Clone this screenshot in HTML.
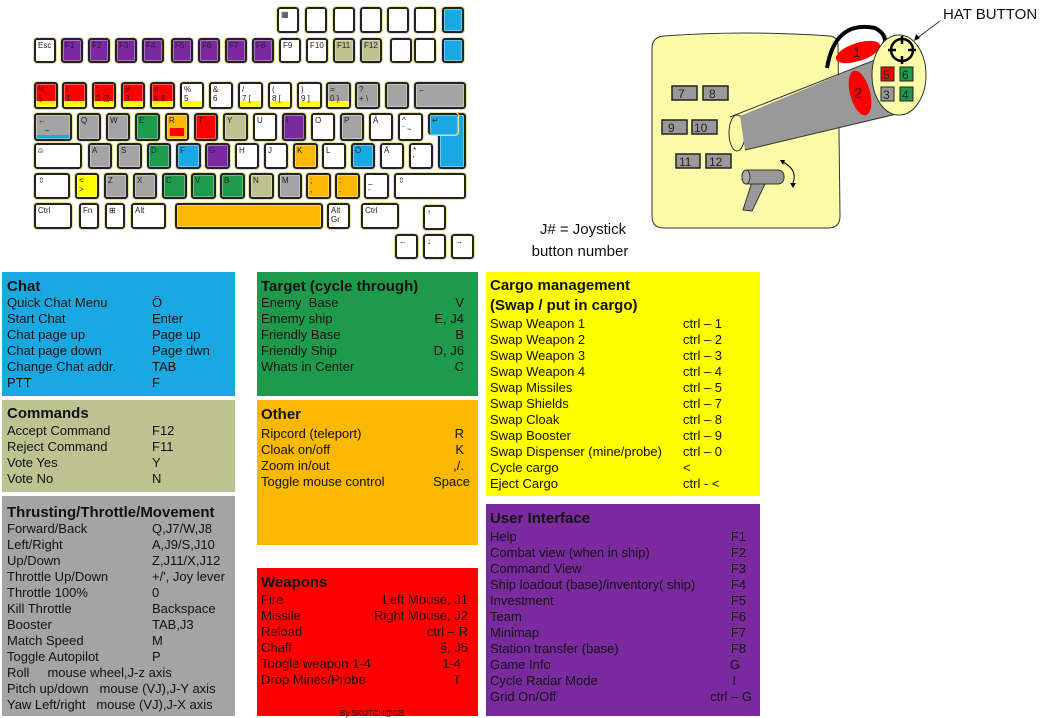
<!DOCTYPE html>
<html><head><meta charset="utf-8"><style>
*{margin:0;padding:0}
body{width:1045px;height:718px;position:relative;background:#fff;font-family:"Liberation Sans",Arial,sans-serif;overflow:hidden}
.k{position:absolute;box-sizing:border-box;border:2px solid #222;border-radius:3px;font-size:8px;line-height:9px;padding:1px 2px;color:#222;outline:1px solid #e8e0a0;box-shadow:inset 0 0 0 1px rgba(255,255,255,.35)}
.w{background:#fff}.p{background:#7a2a9e}.r{background:#f00}.g{background:#a4a4a4}.gr{background:#1e9a4c}.o{background:#fbb800}.ol{background:#bcc290}.c{background:#1aa8e2}.y{background:#ff0}
.yb{background-image:linear-gradient(to top,#ff0 0,#ff0 6px,transparent 6px)}
.pn{position:absolute;box-sizing:border-box;font-size:13px;color:#111}
.pn h{display:block;font-weight:bold;font-size:15px;height:17px;line-height:17px}
.pn div{height:16px;line-height:16px;position:relative;white-space:nowrap}
.pn i{font-style:normal;position:absolute;top:0}
</style></head><body>

<!-- keyboard -->
<div class="k w" style="left:277px;top:7px;width:22px;height:26px">▦</div>
<div class="k w" style="left:305px;top:7px;width:22px;height:26px"></div>
<div class="k w" style="left:333px;top:7px;width:22px;height:26px"></div>
<div class="k w" style="left:360px;top:7px;width:22px;height:26px"></div>
<div class="k w" style="left:387px;top:7px;width:22px;height:26px"></div>
<div class="k w" style="left:414px;top:7px;width:22px;height:26px"></div>
<div class="k c" style="left:442px;top:7px;width:22px;height:26px"></div>

<div class="k w" style="left:34px;top:38px;width:22px;height:25px">Esc</div>
<div class="k p" style="left:61px;top:38px;width:22px;height:25px">F1</div>
<div class="k p" style="left:88px;top:38px;width:22px;height:25px">F2</div>
<div class="k p" style="left:115px;top:38px;width:22px;height:25px">F3</div>
<div class="k p" style="left:142px;top:38px;width:22px;height:25px">F4</div>
<div class="k p" style="left:171px;top:38px;width:22px;height:25px">F5</div>
<div class="k p" style="left:198px;top:38px;width:22px;height:25px">F6</div>
<div class="k p" style="left:225px;top:38px;width:22px;height:25px">F7</div>
<div class="k p" style="left:252px;top:38px;width:22px;height:25px">F8</div>
<div class="k w" style="left:279px;top:38px;width:22px;height:25px">F9</div>
<div class="k w" style="left:306px;top:38px;width:22px;height:25px">F10</div>
<div class="k ol" style="left:333px;top:38px;width:22px;height:25px">F11</div>
<div class="k ol" style="left:360px;top:38px;width:22px;height:25px">F12</div>
<div class="k w" style="left:390px;top:38px;width:22px;height:25px"></div>
<div class="k w" style="left:414px;top:38px;width:22px;height:25px"></div>
<div class="k c" style="left:442px;top:38px;width:22px;height:25px"></div>

<div class="k r yb" style="left:34px;top:82px;width:24px;height:27px">½<br>§</div>
<div class="k r yb" style="left:62px;top:82px;width:25px;height:27px">!<br>1</div>
<div class="k r yb" style="left:92px;top:82px;width:24px;height:27px">"<br>2 @</div>
<div class="k r yb" style="left:121px;top:82px;width:24px;height:27px">#<br>3</div>
<div class="k r yb" style="left:150px;top:82px;width:25px;height:27px">¤<br>4 $</div>
<div class="k w yb" style="left:180px;top:82px;width:24px;height:27px">%<br>5</div>
<div class="k w" style="left:209px;top:82px;width:24px;height:27px">&amp;<br>6</div>
<div class="k w yb" style="left:238px;top:82px;width:25px;height:27px">/<br>7 [</div>
<div class="k w yb" style="left:268px;top:82px;width:24px;height:27px">(<br>8 [</div>
<div class="k w yb" style="left:297px;top:82px;width:25px;height:27px">)<br>9 ]</div>
<div class="k g yb" style="left:326px;top:82px;width:25px;height:27px">=<br>0 }</div>
<div class="k g" style="left:355px;top:82px;width:25px;height:27px">?<br>+ \</div>
<div class="k g" style="left:385px;top:82px;width:24px;height:27px"></div>
<div class="k g" style="left:414px;top:82px;width:52px;height:27px">←</div>

<div class="k g" style="left:34px;top:113px;width:38px;height:28px;background-image:linear-gradient(to top,#1aa8e2 4px,transparent 4px)">←<br>&nbsp;&nbsp;→</div>
<div class="k g" style="left:77px;top:113px;width:24px;height:28px">Q</div>
<div class="k g" style="left:106px;top:113px;width:24px;height:28px">W</div>
<div class="k gr" style="left:135px;top:113px;width:25px;height:28px">E</div>
<div class="k o" style="left:165px;top:113px;width:24px;height:28px;background-image:linear-gradient(#f00,#f00);background-size:14px 8px;background-position:3px 13px;background-repeat:no-repeat">R</div>
<div class="k r" style="left:194px;top:113px;width:24px;height:28px">T</div>
<div class="k ol" style="left:223px;top:113px;width:25px;height:28px">Y</div>
<div class="k w" style="left:253px;top:113px;width:24px;height:28px">U</div>
<div class="k p" style="left:282px;top:113px;width:24px;height:28px">I</div>
<div class="k w" style="left:311px;top:113px;width:24px;height:28px">O</div>
<div class="k g" style="left:340px;top:113px;width:24px;height:28px">P</div>
<div class="k w" style="left:369px;top:113px;width:24px;height:28px">Å</div>
<div class="k w" style="left:398px;top:113px;width:25px;height:28px">^<br>¨ ~</div>
<div class="k c" style="left:438px;top:113px;width:28px;height:56px"></div>
<div class="k c" style="left:428px;top:113px;width:30px;height:22px;border-right:none;border-bottom:none">↵</div>

<div class="k w" style="left:34px;top:143px;width:48px;height:26px">⍝</div>
<div class="k g" style="left:88px;top:143px;width:24px;height:26px">A</div>
<div class="k g" style="left:117px;top:143px;width:25px;height:26px">S</div>
<div class="k gr" style="left:147px;top:143px;width:24px;height:26px">D</div>
<div class="k c" style="left:176px;top:143px;width:25px;height:26px">F</div>
<div class="k p" style="left:205px;top:143px;width:25px;height:26px">G</div>
<div class="k w" style="left:235px;top:143px;width:24px;height:26px">H</div>
<div class="k w" style="left:264px;top:143px;width:24px;height:26px">J</div>
<div class="k o" style="left:293px;top:143px;width:25px;height:26px">K</div>
<div class="k w" style="left:322px;top:143px;width:24px;height:26px">L</div>
<div class="k c" style="left:351px;top:143px;width:24px;height:26px">Ö</div>
<div class="k w" style="left:380px;top:143px;width:24px;height:26px">Ä</div>
<div class="k w" style="left:409px;top:143px;width:24px;height:26px">*<br>'</div>

<div class="k w" style="left:34px;top:173px;width:36px;height:26px">⇧</div>
<div class="k y" style="left:75px;top:173px;width:24px;height:26px">&lt;<br>&gt;</div>
<div class="k g" style="left:104px;top:173px;width:24px;height:26px">Z</div>
<div class="k g" style="left:133px;top:173px;width:24px;height:26px">X</div>
<div class="k gr" style="left:162px;top:173px;width:25px;height:26px">C</div>
<div class="k gr" style="left:191px;top:173px;width:25px;height:26px">V</div>
<div class="k gr" style="left:220px;top:173px;width:25px;height:26px">B</div>
<div class="k ol" style="left:249px;top:173px;width:25px;height:26px">N</div>
<div class="k g" style="left:278px;top:173px;width:24px;height:26px">M</div>
<div class="k o" style="left:306px;top:173px;width:25px;height:26px">;<br>,</div>
<div class="k o" style="left:335px;top:173px;width:25px;height:26px">:<br>.</div>
<div class="k w" style="left:364px;top:173px;width:25px;height:26px">_<br>-</div>
<div class="k w" style="left:394px;top:173px;width:72px;height:26px">⇧</div>

<div class="k w" style="left:34px;top:203px;width:38px;height:26px">Ctrl</div>
<div class="k w" style="left:79px;top:203px;width:20px;height:26px">Fn</div>
<div class="k w" style="left:105px;top:203px;width:20px;height:26px">⊞</div>
<div class="k w" style="left:131px;top:203px;width:35px;height:26px">Alt</div>
<div class="k o" style="left:175px;top:203px;width:148px;height:26px"></div>
<div class="k w" style="left:327px;top:203px;width:23px;height:26px">Alt<br>Gr</div>
<div class="k w" style="left:361px;top:203px;width:38px;height:26px">Ctrl</div>
<div class="k w" style="left:423px;top:205px;width:23px;height:25px;font-weight:bold">↑</div>
<div class="k w" style="left:395px;top:234px;width:23px;height:25px;font-weight:bold">←</div>
<div class="k w" style="left:423px;top:234px;width:23px;height:25px;font-weight:bold">↓</div>
<div class="k w" style="left:451px;top:234px;width:23px;height:25px;font-weight:bold">→</div>

<!-- joystick -->
<svg style="position:absolute;left:0;top:0" width="1045" height="260">
<path d="M664 36 Q745 30 830 36 Q838 37 838 46 L840 216 Q840 228 828 228 L664 228 Q652 228 652 216 L652 48 Q652 37 664 36 Z" fill="#fcfca8" stroke="#333" stroke-width="1"/>
<g font-family="Liberation Sans" font-size="12" fill="#222">
<rect x="672" y="86" width="25" height="14" fill="#999" stroke="#222" stroke-width="1.5"/><text x="678" y="98">7</text>
<rect x="703" y="86" width="25" height="14" fill="#999" stroke="#222" stroke-width="1.5"/><text x="709" y="98">8</text>
<rect x="662" y="120" width="25" height="14" fill="#999" stroke="#222" stroke-width="1.5"/><text x="668" y="132">9</text>
<rect x="692" y="120" width="25" height="14" fill="#999" stroke="#222" stroke-width="1.5"/><text x="694" y="132">10</text>
<rect x="676" y="154" width="24" height="14" fill="#999" stroke="#222" stroke-width="1.5"/><text x="679" y="166">11</text>
<rect x="706" y="154" width="25" height="14" fill="#999" stroke="#222" stroke-width="1.5"/><text x="709" y="166">12</text>
</g>
<path d="M827 68 Q835 20 875 28 Q888 35 884 45" fill="none" stroke="#000" stroke-width="4"/>
<ellipse cx="737" cy="133" rx="8" ry="18" fill="#fcfca8" stroke="#333"/>
<polygon points="740,116 880,58 905,112 745,150" fill="#999"/>
<line x1="730" y1="117" x2="880" y2="58" stroke="#333"/><line x1="745" y1="150" x2="905" y2="112" stroke="#333"/>
<ellipse cx="858" cy="52" rx="23" ry="9" transform="rotate(-18 858 52)" fill="#f00"/>
<ellipse cx="860" cy="93" rx="10" ry="23" transform="rotate(-15 860 93)" fill="#f00"/>
<text x="853" y="57" font-size="14" font-family="Liberation Sans" fill="#222">1</text>
<text x="854" y="98" font-size="15" font-family="Liberation Sans" fill="#222">2</text>
<ellipse cx="899" cy="75" rx="27" ry="40" fill="#fcfca8" stroke="#333"/>
<circle cx="902" cy="50" r="11" fill="none" stroke="#000" stroke-width="2.5"/>
<path d="M902 36v8M902 56v8M888 50h8M908 50h8" stroke="#000" stroke-width="2.5"/>
<g font-family="Liberation Sans" font-size="12" fill="#222">
<rect x="881" y="67" width="13" height="14" fill="#f00" stroke="#222"/><text x="883" y="79">5</text>
<rect x="900" y="67" width="13" height="14" fill="#1e9a4c" stroke="#222"/><text x="902" y="79">6</text>
<rect x="881" y="87" width="13" height="14" fill="#999" stroke="#222"/><text x="883" y="99">3</text>
<rect x="900" y="87" width="13" height="14" fill="#1e9a4c" stroke="#222"/><text x="902" y="99">4</text>
</g>
<polygon points="752,182 766,182 752,211 743,210" fill="#999" stroke="#333"/>
<rect x="742" y="170" width="42" height="14" rx="6" fill="#999" stroke="#333"/>
<ellipse cx="746" cy="177" rx="4" ry="7" fill="#aaa" stroke="#333"/>
<path d="M783 162 Q798 170 793 183" fill="none" stroke="#000"/>
<path d="M780 160l5 0-2 5zM790 183l6 0-3 5z" fill="#000"/>
<line x1="940" y1="21" x2="916" y2="39" stroke="#333"/>
<path d="M914 41l2-7 4 4z" fill="#000"/>
<text x="943" y="19" font-family="Liberation Sans" font-size="15" fill="#111">HAT BUTTON</text>
<text x="583" y="234" text-anchor="middle" font-family="Liberation Sans" font-size="15" fill="#111">J# = Joystick</text>
<text x="580" y="256" text-anchor="middle" font-family="Liberation Sans" font-size="15" fill="#111">button number</text>
</svg>

<!-- panels -->
<div class="pn" style="left:2px;top:272px;width:233px;height:124px;background:#1aa8e2;padding:6px 0 0 5px">
<h>Chat</h>
<div>Quick Chat Menu<i style="left:145px">Ö</i></div>
<div>Start Chat<i style="left:145px">Enter</i></div>
<div>Chat page up<i style="left:145px">Page up</i></div>
<div>Chat page down<i style="left:145px">Page dwn</i></div>
<div>Change Chat addr.<i style="left:145px">TAB</i></div>
<div>PTT<i style="left:145px">F</i></div>
</div>
<div class="pn" style="left:2px;top:400px;width:233px;height:92px;background:#bcc290;padding:5px 0 0 5px">
<h>Commands</h>
<div style="margin-top:1px">Accept Command<i style="left:145px">F12</i></div>
<div>Reject Command<i style="left:145px">F11</i></div>
<div>Vote Yes<i style="left:145px">Y</i></div>
<div>Vote No<i style="left:145px">N</i></div>
</div>
<div class="pn" style="left:2px;top:496px;width:233px;height:220px;background:#a4a4a4;padding:8px 0 0 5px">
<h>Thrusting/Throttle/Movement</h>
<div>Forward/Back<i style="left:145px">Q,J7/W,J8</i></div>
<div>Left/Right<i style="left:145px">A,J9/S,J10</i></div>
<div>Up/Down<i style="left:145px">Z,J11/X,J12</i></div>
<div>Throttle Up/Down<i style="left:145px">+/', Joy lever</i></div>
<div>Throttle 100%<i style="left:145px">0</i></div>
<div>Kill Throttle<i style="left:145px">Backspace</i></div>
<div>Booster<i style="left:145px">TAB,J3</i></div>
<div>Match Speed<i style="left:145px">M</i></div>
<div>Toggle Autopilot<i style="left:145px">P</i></div>
<div>Roll&nbsp;&nbsp;&nbsp;&nbsp; mouse wheel,J-z axis</div>
<div>Pitch up/down&nbsp;&nbsp;&nbsp;mouse (VJ),J-Y axis</div>
<div>Yaw Left/right&nbsp;&nbsp;&nbsp;mouse (VJ),J-X axis</div>
</div>
<div class="pn" style="left:257px;top:272px;width:221px;height:124px;background:#1e9a4c;padding:6px 0 0 4px">
<h>Target (cycle through)</h>
<div>Enemy&nbsp; Base<i style="right:14px">V</i></div>
<div>Ememy ship<i style="right:14px">E, J4</i></div>
<div>Friendly Base<i style="right:14px">B</i></div>
<div>Friendly Ship<i style="right:14px">D, J6</i></div>
<div>Whats in Center<i style="right:14px">C</i></div>
</div>
<div class="pn" style="left:257px;top:400px;width:221px;height:145px;background:#fbb800;padding:6px 0 0 4px">
<h>Other</h>
<div style="margin-top:3px">Ripcord (teleport)<i style="right:14px">R</i></div>
<div>Cloak on/off<i style="right:14px">K</i></div>
<div>Zoom in/out<i style="right:14px">,/.</i></div>
<div>Toggle mouse control<i style="right:8px">Space</i></div>
</div>
<div class="pn" style="left:257px;top:568px;width:221px;height:148px;background:#f00;padding:6px 0 0 4px">
<h>Weapons</h>
<div style="margin-top:1px">Fire<i style="right:10px">Left Mouse, J1</i></div>
<div>Missile<i style="right:10px">Right Mouse, J2</i></div>
<div>Reload<i style="right:10px">ctrl – R</i></div>
<div>Chaff<i style="right:10px">§, J5</i></div>
<div>Toogle weapon 1-4<i style="right:17px">1-4</i></div>
<div>Drop Mines/Probe<i style="right:17px">T</i></div>
</div>
<div class="pn" style="left:486px;top:272px;width:274px;height:224px;background:#ff0;padding:4px 0 0 4px">
<h style="height:20px;line-height:20px">Cargo management</h>
<h style="height:20px;line-height:20px">(Swap / put in cargo)</h>
<div>Swap Weapon 1<i style="left:193px">ctrl – 1</i></div>
<div>Swap Weapon 2<i style="left:193px">ctrl – 2</i></div>
<div>Swap Weapon 3<i style="left:193px">ctrl – 3</i></div>
<div>Swap Weapon 4<i style="left:193px">ctrl – 4</i></div>
<div>Swap Missiles<i style="left:193px">ctrl – 5</i></div>
<div>Swap Shields<i style="left:193px">ctrl – 7</i></div>
<div>Swap Cloak<i style="left:193px">ctrl – 8</i></div>
<div>Swap Booster<i style="left:193px">ctrl – 9</i></div>
<div>Swap Dispenser (mine/probe)<i style="left:193px">ctrl – 0</i></div>
<div>Cycle cargo<i style="left:193px">&lt;</i></div>
<div>Eject Cargo<i style="left:193px">ctrl - &lt;</i></div>
</div>
<div class="pn" style="left:486px;top:504px;width:274px;height:212px;background:#7a2a9e;padding:6px 0 0 4px">
<h>User Interface</h>
<div style="margin-top:2px">Help<i style="right:14px">F1</i></div>
<div>Combat view (when in ship)<i style="right:14px">F2</i></div>
<div>Command View<i style="right:14px">F3</i></div>
<div>Ship loadout (base)/inventory( ship)<i style="right:14px">F4</i></div>
<div>Investment<i style="right:14px">F5</i></div>
<div>Team<i style="right:14px">F6</i></div>
<div>Minimap<i style="right:14px">F7</i></div>
<div>Station transfer (base)<i style="right:14px">F8</i></div>
<div>Game Info<i style="right:20px">G</i></div>
<div>Cycle Radar Mode<i style="right:24px">I</i></div>
<div>Grid On/Off<i style="right:8px">ctrl – G</i></div>
</div>
<div style="position:absolute;left:340px;top:709px;font-size:8px;color:#111">By SKUTCH@GB</div>
</body></html>
